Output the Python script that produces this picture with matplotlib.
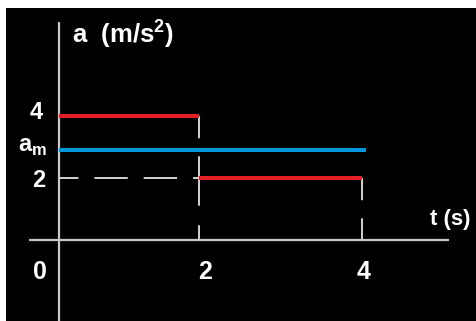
import numpy as np
import matplotlib
matplotlib.use("Agg")
import matplotlib.pyplot as plt

plt.rcParams['font.family'] = ['Liberation Sans', 'DejaVu Sans']
plt.rcParams['mathtext.fontset'] = 'custom'
plt.rcParams['mathtext.rm'] = 'Liberation Sans'
plt.rcParams['mathtext.bf'] = 'Liberation Sans:bold'
plt.rcParams['lines.scale_dashes'] = False

# ---- data ----
t_first = [0, 2]
a_first = [4, 4]
t_second = [2, 4]
a_second = [2, 2]
t_mean = [0, 4.05]
a_mean = [2.9, 2.9]
x_ticks = [0, 2, 4]
x_tick_labels = ["0", "2", "4"]
y_ticks = [4, 2.9, 2]
y_tick_labels = ["4", r"$\mathbf{a}_\mathbf{m}$", "2"]
x_title = "t (s)"
y_title = r"a  (m/s$^\mathbf{2}$)"

RED = "#e51f26"
BLUE = "#0096dc"
GRAY = "#c8c8c8"
DASH = "#d2d2d2"

# piecewise time scale (drawing not to scale in the original)
def fwd(t):
    t = np.asarray(t, dtype=float)
    return np.where(t < 2, 70.0 * t, 140.0 + 81.5 * (t - 2))

def inv(u):
    u = np.asarray(u, dtype=float)
    return np.where(u < 140, u / 70.0, 2 + (u - 140.0) / 81.5)

fig = plt.figure(figsize=(4.76, 3.21), dpi=100, facecolor="white")
ax = fig.add_axes([6 / 476, 0, 470 / 476, 313 / 321])
ax.set_facecolor("black")
ax.set_xscale("function", functions=(fwd, inv))
ax.set_xlim(inv(-53), inv(417))
ax.set_ylim(-81 / 31, 232 / 31)
for s in ax.spines.values():
    s.set_visible(False)
ax.set_xticks([])
ax.set_yticks([])

# axes lines
ax.plot([0, 0], [ax.get_ylim()[0], 7.03], color=GRAY, lw=1.6, solid_capstyle="butt")
ax.plot([inv(-30), inv(390)], [0, 0], color=GRAY, lw=1.6, solid_capstyle="butt")

# guide dashed lines
dash_v = (16, 13)
ax.plot([t_first[1], t_first[1]], [a_first[1], a_second[0]], color=DASH, lw=1.4, dashes=dash_v)
ax.plot([t_second[0], t_second[0]], [a_second[0], 0], color=DASH, lw=1.4, dashes=(20, 14, 13, 14))
ax.plot([t_second[1], t_second[1]], [a_second[1], 0], color=DASH, lw=1.4, dashes=dash_v)
ax.plot([0, t_second[0]], [a_second[0], a_second[0]], color=DASH, lw=1.4,
        dashes=(14, 11.5, 24, 11.5, 24, 11.5))

# data lines
ax.plot(t_first, a_first, color=RED, lw=2.9, solid_capstyle="butt")
ax.plot(t_second, a_second, color=RED, lw=2.9, solid_capstyle="butt")
ax.plot(t_mean, a_mean, color=BLUE, lw=2.9, solid_capstyle="butt")

# tick labels
y_label_x = [-0.229, -0.171, -0.2]
y_label_off = [0.2, 0.22, 0.0]
y_label_size = [17, 17, 17]
for yv, lab, xx, off, fs in zip(y_ticks, y_tick_labels, y_label_x, y_label_off, y_label_size):
    ax.text(xx, yv + off, lab, color="white", fontsize=fs, fontweight="bold",
            ha="right", va="center_baseline")
x_label_pos = [-0.279, 2.074, 4.018]
for xx, lab in zip(x_label_pos, x_tick_labels):
    ax.text(xx, -0.95, lab, color="white", fontsize=18, fontweight="bold",
            ha="center", va="center_baseline")

ax.text(4.83, 0.74, x_title, color="white", fontsize=16, fontweight="bold",
        ha="left", va="center_baseline")
ax.text(0.18, 6.77, y_title, color="white", fontsize=18.5, fontweight="bold",
        ha="left", va="center_baseline")

fig.savefig("out.png", dpi=100, facecolor="white")
